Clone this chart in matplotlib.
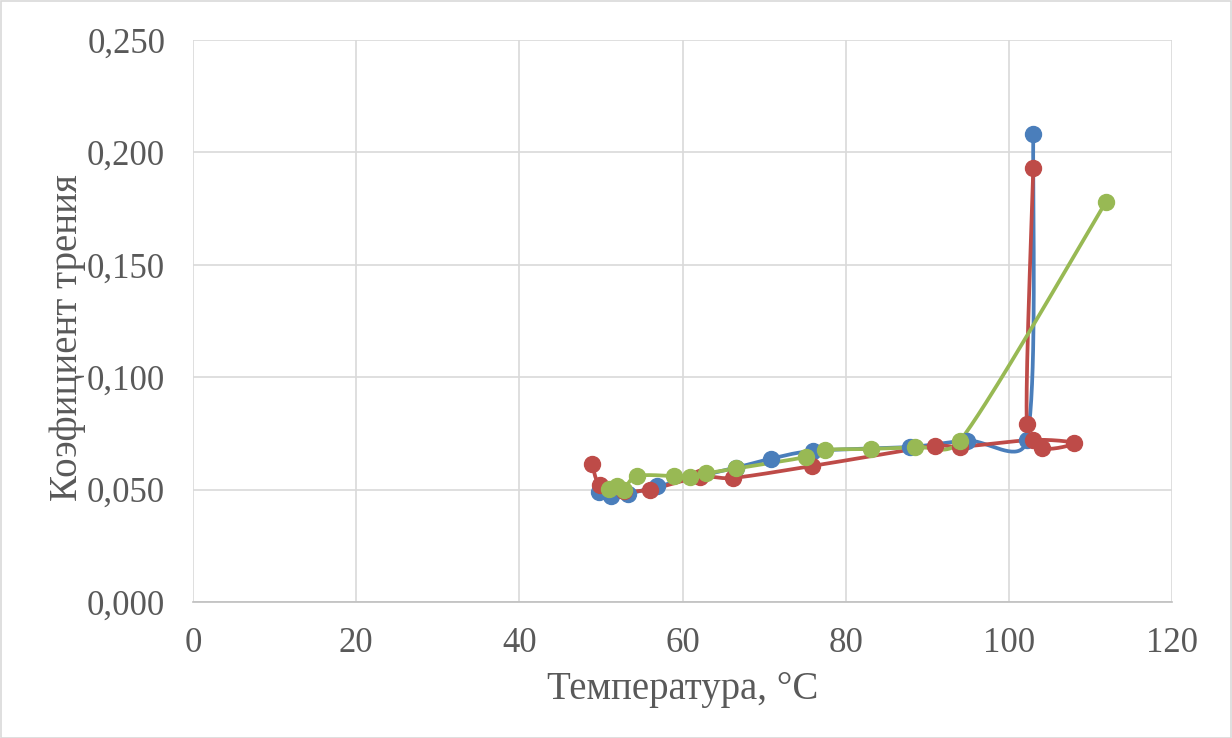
import numpy as np
import matplotlib
matplotlib.use("Agg")
import matplotlib.pyplot as plt

# ---- data ----
blue_x = [49.8, 51.2, 53.3, 56.9, 66.6, 70.9, 76.0, 87.9, 94.9, 102.2, 103.0]
blue_y = [0.0489, 0.0470, 0.0480, 0.0514, 0.0598, 0.0638, 0.0672, 0.0690, 0.0718, 0.0720, 0.2080]

red_x = [48.9, 49.9, 52.8, 56.0, 62.1, 66.2, 75.9, 91.0, 94.0, 103.0, 108.0, 104.1, 102.2, 103.0]
red_y = [0.0614, 0.0520, 0.0495, 0.0500, 0.0556, 0.0552, 0.0605, 0.0695, 0.0690, 0.0721, 0.0707, 0.0685, 0.0792, 0.1930]

green_x = [51.0, 52.0, 52.8, 54.4, 59.0, 60.9, 62.9, 66.6, 75.1, 77.5, 83.1, 88.5, 94.0, 111.9]
green_y = [0.0503, 0.0516, 0.0500, 0.0560, 0.0560, 0.0556, 0.0572, 0.0594, 0.0645, 0.0676, 0.0681, 0.0690, 0.0716, 0.1780]

x_ticks = [0, 20, 40, 60, 80, 100, 120]
y_ticks = [0.0, 0.05, 0.10, 0.15, 0.20, 0.25]
x_label = "Температура, °C"
y_label = "Коэфициент трения"

colors = ["#4A7EBB", "#BE4B48", "#98B954"]

W, H = 1232, 738
fig = plt.figure(figsize=(W / 100, H / 100), dpi=100)
fig.patch.set_facecolor("white")
ax = fig.add_axes([193 / W, 1 - 602 / H, (1172 - 193) / W, (602 - 40) / H])

XMIN, XMAX, YMIN, YMAX = 0, 120, 0, 0.25
ax.set_xlim(XMIN, XMAX)
ax.set_ylim(YMIN, YMAX)

# axes size in pixels for screen-space smoothing (Excel style)
PXW, PXH = 1172 - 193, 602 - 40
CAP = 0.45


def smooth(xs, ys, n=40):
    px = (np.array(xs) - XMIN) / (XMAX - XMIN) * PXW
    py = (np.array(ys) - YMIN) / (YMAX - YMIN) * PXH
    P = np.column_stack([px, py])
    m = len(P)

    def tvec(i):
        a = P[i - 1] if i > 0 else P[i]
        b = P[i + 1] if i + 1 < m else P[i]
        return (b - a) / 6.0

    def capped(v, L):
        n_ = np.hypot(*v)
        lim = CAP * L
        return v * (lim / n_) if n_ > lim and n_ > 0 else v

    out = [P[0]]
    t = np.linspace(0, 1, n)[1:, None]
    for i in range(m - 1):
        p1 = P[i]
        p2 = P[i + 1]
        L = np.hypot(*(p2 - p1))
        c1 = p1 + capped(tvec(i), L)
        c2 = p2 - capped(tvec(i + 1), L)
        seg = ((1 - t) ** 3) * p1 + 3 * ((1 - t) ** 2) * t * c1 + 3 * (1 - t) * t ** 2 * c2 + t ** 3 * p2
        out.extend(seg)
    out = np.array(out)
    sx = out[:, 0] / PXW * (XMAX - XMIN) + XMIN
    sy = out[:, 1] / PXH * (YMAX - YMIN) + YMIN
    return sx, sy


for xs, ys, c in [(blue_x, blue_y, colors[0]), (red_x, red_y, colors[1]), (green_x, green_y, colors[2])]:
    sx, sy = smooth(xs, ys)
    ax.plot(sx, sy, color=c, lw=2.7, solid_capstyle="round", solid_joinstyle="round", zorder=3)
    ax.plot(xs, ys, linestyle="none", marker="o", ms=11.5, color=c, zorder=4)

ax.set_xticks(x_ticks)
ax.set_yticks(y_ticks)
ax.set_xticklabels([str(v) for v in x_ticks])
ax.set_yticklabels([f"{v:.3f}".replace(".", ",") for v in y_ticks])
ax.grid(True, color="#D9D9D9", lw=1.2, zorder=0)
ax.set_axisbelow(True)
for s in ["top", "right", "left"]:
    ax.spines[s].set_visible(False)
ax.spines["bottom"].set_color("#BFBFBF")
ax.spines["bottom"].set_linewidth(1.2)
ax.tick_params(length=0, labelsize=25, labelcolor="#595959")
for lab in ax.get_xticklabels() + ax.get_yticklabels():
    lab.set_fontfamily("Liberation Serif")
ax.tick_params(axis="x", pad=18)
ax.tick_params(axis="y", pad=20)

ax.set_xlabel(x_label, fontsize=28, color="#595959", family="Liberation Serif", labelpad=8)
ax.set_ylabel(y_label, fontsize=28, color="#595959", family="Liberation Serif", labelpad=1)
ax.yaxis.label.set_y(0.47)

# outer chart border
fig.add_artist(plt.Rectangle((0.5 / W, 0.5 / H), 1 - 1.5 / W, 1 - 1.5 / H, transform=fig.transFigure,
                             fill=False, edgecolor="#D9D9D9", lw=1.2))

fig.savefig("out.png", dpi=100)
